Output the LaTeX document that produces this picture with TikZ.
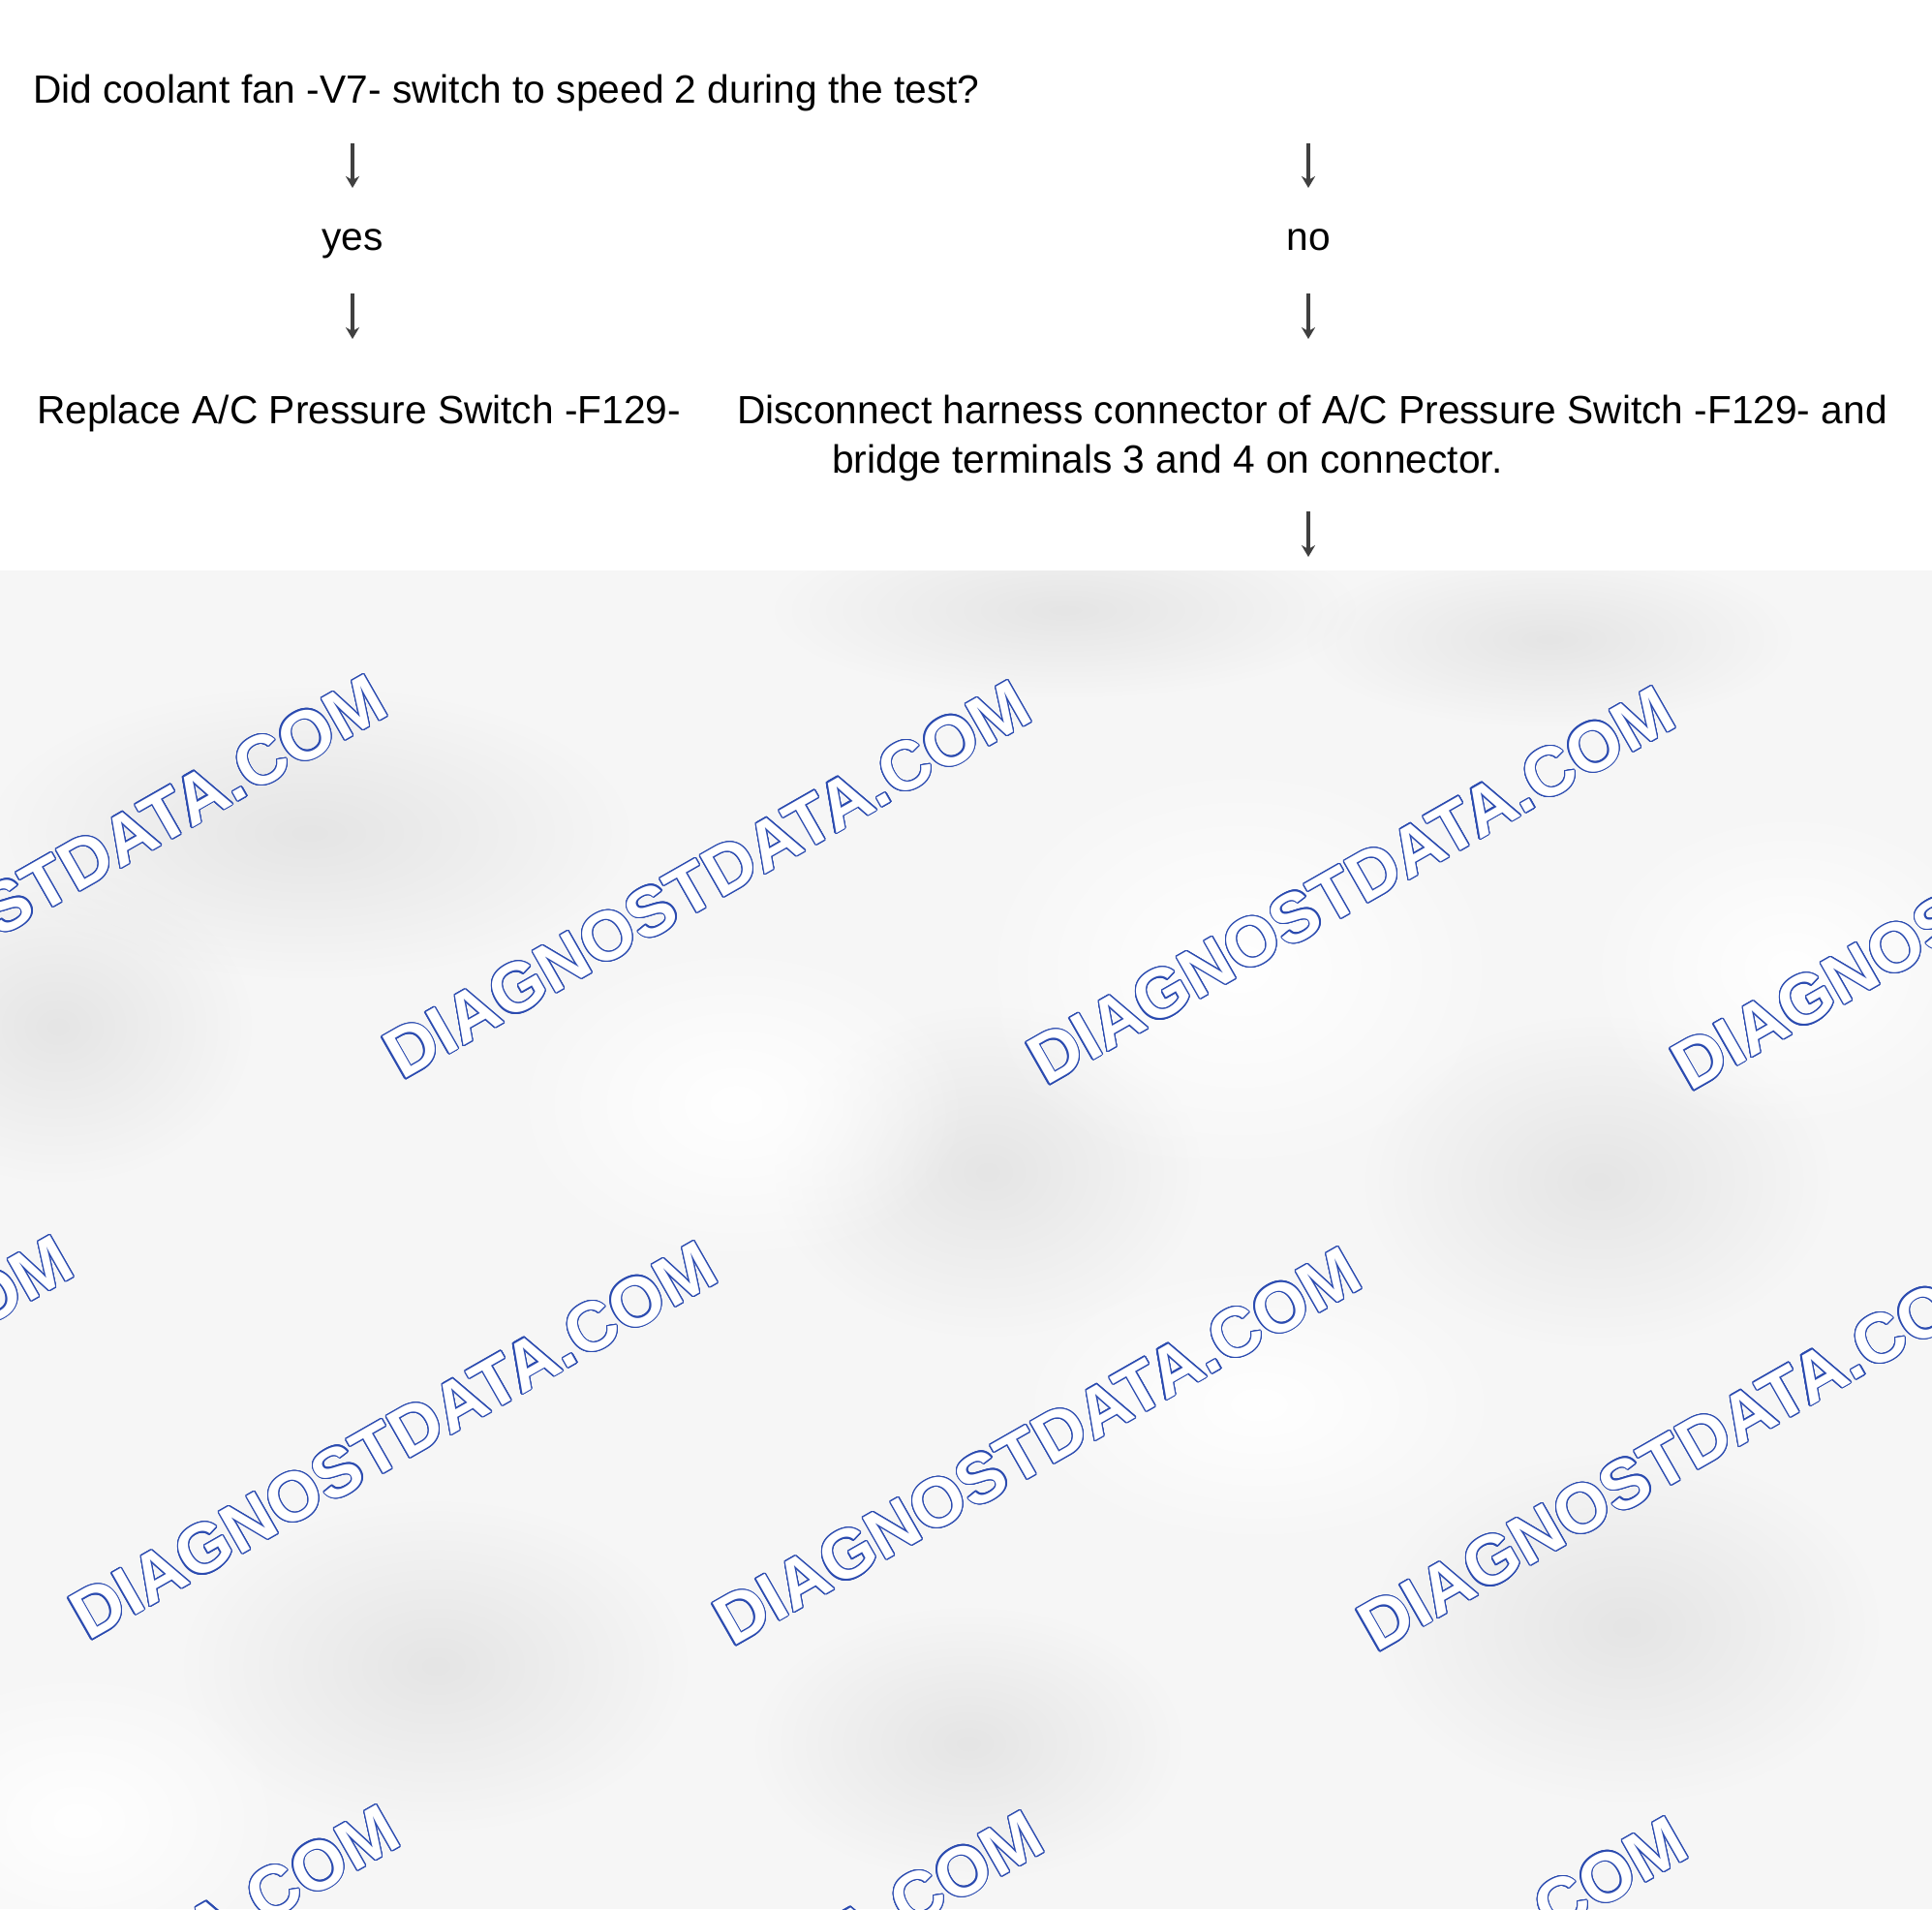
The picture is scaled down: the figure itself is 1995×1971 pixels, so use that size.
\documentclass[tikz,border=0pt]{standalone}
\usepackage{fontspec}
\setmainfont{Liberation Sans}
\usetikzlibrary{arrows.meta,fadings}
\definecolor{wmblue}{HTML}{2B4BB0}
\definecolor{bggray}{HTML}{F6F6F6}
\tikzfading[name=blobfade, inner color=transparent!0, outer color=transparent!100]
\tikzset{
  txt/.style={font=\fontsize{40.7}{51}\selectfont, inner sep=0pt, text=black},
  flowarrow/.style={draw=black!75, line width=3.2pt, -{Stealth[length=12pt,width=14pt]}},
  wmtext/.style={font=\fontsize{71.6}{76}\selectfont\bfseries, inner sep=0pt, rotate=29.7},
  blob/.style={fill=black!10, path fading=blobfade},
  lightblob/.style={fill=white, path fading=blobfade},
}
\newcommand{\wmark}[3]{%
  \foreach \a in {0,20,...,340} {\node[wmtext, text=wmblue, shift={(\a:1.2pt)}] (#1-\a) at (#2,#3) {DIAGNOSTDATA.COM};}
  \node[wmtext, text=white] (#1) at (#2,#3) {DIAGNOSTDATA.COM};
}
\begin{document}
\begin{tikzpicture}[x=1pt,y=-1pt]
\useasboundingbox (0,0) rectangle (1995,1971);
\fill[white] (0,0) rectangle (1995,1971);
% mottled grey background
\begin{scope}
  \clip (0,589) rectangle (1995,1971);
  \fill[bggray] (0,589) rectangle (1995,1971);
  \fill[blob] (320,860) ellipse (330 and 150);
  \fill[blob] (1100,630) ellipse (300 and 90);
  \fill[blob] (1600,660) ellipse (250 and 90);
  \fill[blob] (60,1060) ellipse (200 and 160);
  \fill[blob] (1020,1210) ellipse (220 and 170);
  \fill[blob] (1650,1220) ellipse (240 and 170);
  \fill[blob] (450,1720) ellipse (260 and 170);
  \fill[blob] (1680,1680) ellipse (260 and 180);
  \fill[blob] (1000,1800) ellipse (220 and 140);
  \fill[lightblob] (1280,1000) ellipse (280 and 220);
  \fill[lightblob] (760,1140) ellipse (240 and 170);
  \fill[lightblob] (1850,1000) ellipse (220 and 170);
  \fill[lightblob] (80,1880) ellipse (220 and 160);
  \fill[lightblob] (1300,1450) ellipse (260 and 150);
  % watermark
  \wmark{wa}{65}{902}
  \wmark{wb}{730}{908}
  \wmark{wc}{1395}{914}
  \wmark{wd}{2060}{920}
  \wmark{we}{-259}{1481}
  \wmark{wf}{406}{1487}
  \wmark{wg}{1071}{1493}
  \wmark{wh}{1736}{1499}
  \wmark{wi}{78}{2069}
  \wmark{wj}{743}{2075}
  \wmark{wk}{1408}{2081}
\end{scope}
% texts
\node[txt, anchor=base west] (q) at (34,106) {Did coolant fan -V7- switch to speed 2 during the test?};
\node[txt, anchor=base] (yes) at (364,258) {yes};
\node[txt, anchor=base] (no) at (1351,258) {no};
\node[txt, anchor=base west] (repl) at (38,437) {Replace A/C Pressure Switch -F129-};
\node[txt, anchor=base west] (disc1) at (761,437) {Disconnect harness connector of A/C Pressure Switch -F129- and};
\node[txt, anchor=base west] (disc2) at (859,488) {bridge terminals 3 and 4 on connector.};
% arrows
\coordinate (a1s) at (364,148); \coordinate (a1e) at (364,194);
\coordinate (a2s) at (364,303); \coordinate (a2e) at (364,350);
\coordinate (b1s) at (1351,148); \coordinate (b1e) at (1351,194);
\coordinate (b2s) at (1351,303); \coordinate (b2e) at (1351,350);
\coordinate (b3s) at (1351,528); \coordinate (b3e) at (1351,575);
\draw[flowarrow] (a1s) -- (a1e);
\draw[flowarrow] (a2s) -- (a2e);
\draw[flowarrow] (b1s) -- (b1e);
\draw[flowarrow] (b2s) -- (b2e);
\draw[flowarrow] (b3s) -- (b3e);
\end{tikzpicture}
\end{document}
